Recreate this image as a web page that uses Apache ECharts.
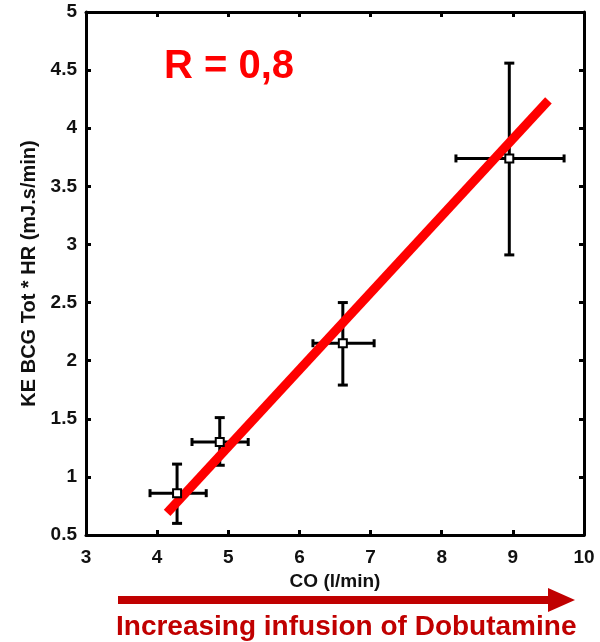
<!DOCTYPE html>
<html><head><meta charset="utf-8">
<script src="https://cdn.jsdelivr.net/npm/echarts@6/dist/echarts.min.js"></script>
<style>html,body{margin:0;padding:0;background:#fff}#c{width:600px;height:642px}</style>
</head><body><div id="c"></div>
<script>
const co = [4.28, 4.88, 6.61, 8.95];
const coLow = [3.90, 4.49, 6.19, 8.20];
const coHigh = [4.69, 5.28, 7.05, 9.72];
const ke = [0.86, 1.30, 2.15, 3.74];
const keLow = [0.60, 1.10, 1.79, 2.91];
const keHigh = [1.11, 1.51, 2.50, 4.56];
const fitX = [4.14, 9.50];
const fitY = [0.69, 4.24];
const xTicks = [3, 4, 5, 6, 7, 8, 9, 10];
const yTicks = [0.5, 1, 1.5, 2, 2.5, 3, 3.5, 4, 4.5, 5];

const FONT = '"Liberation Sans", Arial, sans-serif';
const chart = echarts.init(document.getElementById('c'));
const errData = co.map((x, i) => [x, ke[i], coLow[i], coHigh[i], keLow[i], keHigh[i]]);
const axisCommon = {
  axisLine: {show: true, lineStyle: {color: '#000', width: 3}},
  axisTick: {show: true, inside: true, length: 5, lineStyle: {color: '#000', width: 3}},
  splitLine: {show: false}
};
chart.setOption({
  animation: false,
  grid: {left: 86, right: 16, top: 12, bottom: 107, containLabel: false},
  xAxis: [
    Object.assign({type: 'value', min: xTicks[0], max: xTicks[xTicks.length-1], interval: 1,
      name: 'CO (l/min)', nameLocation: 'middle', nameGap: 34,
      nameTextStyle: {fontFamily: FONT, fontWeight: 'bold', fontSize: 19, color: '#111'},
      axisLabel: {fontFamily: FONT, fontWeight: 'bold', fontSize: 19, color: '#111', margin: 13}}, axisCommon),
    Object.assign({type: 'value', position: 'top', min: xTicks[0], max: xTicks[xTicks.length-1], interval: 1,
      axisLabel: {show: false}}, axisCommon)
  ],
  yAxis: [
    Object.assign({type: 'value', min: yTicks[0], max: yTicks[yTicks.length-1], interval: 0.5,
      name: 'KE BCG Tot * HR (mJ.s/min)', nameLocation: 'middle', nameGap: 47, nameRotate: 90,
      nameTextStyle: {fontFamily: FONT, fontWeight: 'bold', fontSize: 20, color: '#111'},
      axisLabel: {fontFamily: FONT, fontWeight: 'bold', fontSize: 19, color: '#111', margin: 9}}, axisCommon),
    Object.assign({type: 'value', position: 'right', min: yTicks[0], max: yTicks[yTicks.length-1], interval: 0.5,
      axisLabel: {show: false}}, axisCommon)
  ],
  series: [
    {
      type: 'custom', xAxisIndex: 0, yAxisIndex: 0, z: 2,
      data: errData,
      renderItem: function (params, api) {
        const c = api.coord([api.value(0), api.value(1)]);
        const l = api.coord([api.value(2), api.value(1)]);
        const r = api.coord([api.value(3), api.value(1)]);
        const b = api.coord([api.value(0), api.value(4)]);
        const t = api.coord([api.value(0), api.value(5)]);
        const st = {stroke: '#000', lineWidth: 3, fill: null};
        const hc = 4, vc = 5;
        return {type: 'group', children: [
          {type: 'line', shape: {x1: l[0], y1: l[1], x2: r[0], y2: r[1]}, style: st},
          {type: 'line', shape: {x1: l[0], y1: l[1]-hc, x2: l[0], y2: l[1]+hc}, style: st},
          {type: 'line', shape: {x1: r[0], y1: r[1]-hc, x2: r[0], y2: r[1]+hc}, style: st},
          {type: 'line', shape: {x1: b[0], y1: b[1], x2: t[0], y2: t[1]}, style: st},
          {type: 'line', shape: {x1: t[0]-vc, y1: t[1], x2: t[0]+vc, y2: t[1]}, style: st},
          {type: 'line', shape: {x1: b[0]-vc, y1: b[1], x2: b[0]+vc, y2: b[1]}, style: st}
        ]};
      }
    },
    {
      type: 'line', data: fitX.map((x, i) => [x, fitY[i]]), z: 3,
      symbol: 'none', lineStyle: {color: '#ff0000', width: 9, cap: 'butt'}
    },
    {
      type: 'scatter', data: co.map((x, i) => [x, ke[i]]), z: 4,
      symbol: 'rect', symbolSize: 8,
      itemStyle: {color: '#fff', borderColor: '#000', borderWidth: 2, opacity: 1}
    }
  ],
  graphic: [
    {type: 'text', x: 164, y: 67, style: {text: 'R = 0,8', fontFamily: FONT, fontWeight: 'bold', fontSize: 40, fill: '#ff0000', verticalAlign: 'middle'}},
    {type: 'rect', shape: {x: 118, y: 596, width: 432, height: 8}, style: {fill: '#c00000'}},
    {type: 'polygon', shape: {points: [[548, 588], [575, 600], [548, 612]]}, style: {fill: '#c00000'}},
    {type: 'text', x: 116, y: 627, style: {text: 'Increasing infusion of Dobutamine', fontFamily: FONT, fontWeight: 'bold', fontSize: 28, fill: '#c00000', verticalAlign: 'middle'}}
  ]
});
</script></body></html>
